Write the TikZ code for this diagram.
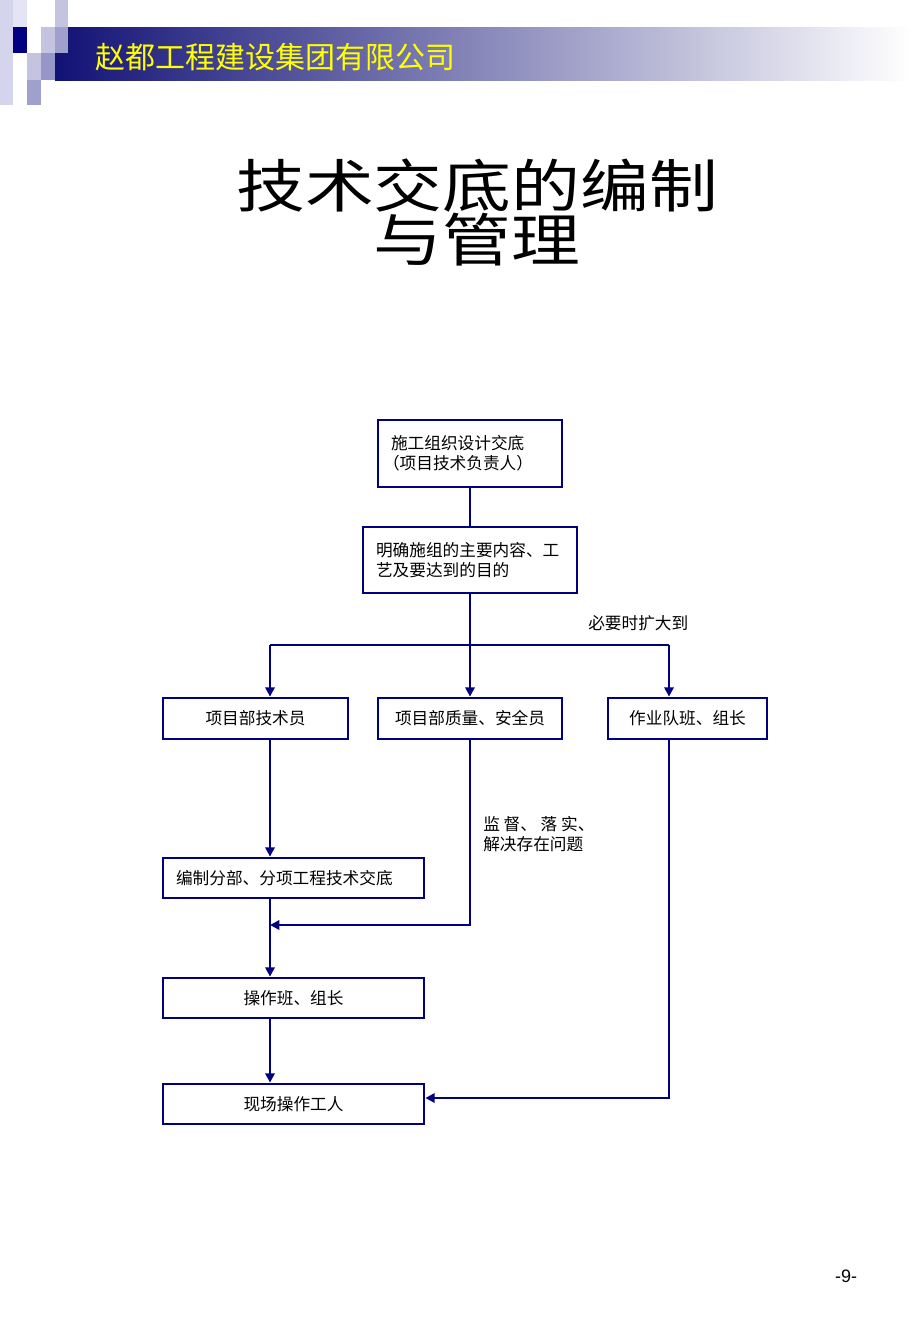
\documentclass[tikz,border=0pt]{standalone}
\usepackage{fontspec}
\setmainfont{Liberation Sans}
\newfontfamily\cjk{Noto Sans CJK SC}
\newfontfamily\cjkwide[FakeStretch=1.2]{Noto Sans CJK SC}
\usetikzlibrary{arrows.meta}
\definecolor{navy}{RGB}{0,0,128}
\definecolor{bannerdark}{RGB}{18,18,118}
\definecolor{lavA}{RGB}{212,212,236}
\definecolor{lavB}{RGB}{228,228,244}
\definecolor{lavC}{RGB}{196,196,224}
\definecolor{lavD}{RGB}{160,160,204}
\definecolor{lavE}{RGB}{150,150,200}
\definecolor{hdryellow}{RGB}{255,255,0}
\tikzset{
  box/.style={draw=navy, line width=2.1pt, rectangle, inner sep=0pt, font=\cjk\fontsize{12.5}{15}\selectfont},
  conn/.style={draw=navy, line width=2.1pt},
  arr/.style={conn, -{Triangle[length=7pt,width=7pt]}},
  lbl/.style={font=\cjk\fontsize{12.5}{15}\selectfont, inner sep=0pt, align=left},
  ttl/.style={inner sep=0pt, font=\cjkwide\fontsize{43}{50}\selectfont}
}
\begin{document}
\begin{tikzpicture}[x=0.75pt,y=-0.75pt]
\useasboundingbox (0,0) rectangle (920,1329);
\fill[white] (0,0) rectangle (920,1329);
% header
\shade[left color=bannerdark, right color=white] (55,27) rectangle (912,80);
\fill[lavA] (0,0) rectangle (13,105);
\fill[lavB] (13,0) rectangle (27,27);
\fill[navy] (13,27) rectangle (27,53);
\fill[lavC] (27,53) rectangle (41,80);
\fill[lavC] (41,27) rectangle (55,53);
\fill[lavE] (41,53) rectangle (55,80);
\fill[lavC] (55,0) rectangle (68,27);
\fill[lavD] (55,27) rectangle (68,53);
\fill[lavD] (27,80) rectangle (41,105);
\node[anchor=west, inner sep=0pt, text=hdryellow, font=\cjk\fontsize{22.5}{27}\selectfont] (hdr) at (95,57) {赵都工程建设集团有限公司};
% title
\node[ttl] (title1) at (477,186) {技术交底的编制};
\node[ttl] (title2) at (477,240) {与管理};
% boxes
\node[box, minimum width=138pt, minimum height=50.25pt, text width=130.5pt, align=left] (b1) at (470,453.5) {\hspace*{6pt}施工组织设计交底\\（项目技术负责人）};
\node[box, minimum width=160.5pt, minimum height=49.5pt, text width=141pt, align=left] (b2) at (470,560) {明确施组的主要内容、工\\艺及要达到的目的};
\node[box, minimum width=138.75pt, minimum height=30.75pt] (b3a) at (255.5,718.5) {项目部技术员};
\node[box, minimum width=138pt, minimum height=30.75pt] (b3b) at (470,718.5) {项目部质量、安全员};
\node[box, minimum width=119.25pt, minimum height=30.75pt] (b3c) at (687.5,718.5) {作业队班、组长};
\node[box, minimum width=195.75pt, minimum height=30pt, text width=176.25pt, align=left] (b4) at (293.5,878) {编制分部、分项工程技术交底};
\node[box, minimum width=195.75pt, minimum height=30pt] (b5) at (293.5,998) {操作班、组长};
\node[box, minimum width=195.75pt, minimum height=30pt] (b6) at (293.5,1104) {现场操作工人};
% labels
\node[lbl, anchor=west] (l1) at (588,623) {必要时扩大到};
\node[lbl, anchor=north west] (l2) at (483,816) {监 督、 落 实、\\解决存在问题};
\node[inner sep=0pt, font=\fontsize{13.5}{16}\selectfont] (pg) at (846,1276) {-9-};
% connectors
\coordinate (jl) at (270,645);
\coordinate (jr) at (669,645);
\coordinate (jm) at (470,925);
\coordinate (jc) at (669,1098);
\draw[conn] (b1.south) -- (b2.north);
\draw[arr] (b2.south) -- (b3b.north);
\draw[conn] (jl) -- (jr);
\draw[arr] (jl) -- (jl |- b3a.north);
\draw[arr] (jr) -- (jr |- b3c.north);
\draw[arr] (jl |- b3a.south) -- (jl |- b4.north);
\draw[arr] (jl |- b4.south) -- (jl |- b5.north);
\draw[arr] (jl |- b5.south) -- (jl |- b6.north);
\draw[arr] (b3b.south) -- (jm) -- (jl |- jm);
\draw[arr] (jr |- b3c.south) -- (jc) -- (b6.east |- jc);
\end{tikzpicture}
\end{document}
